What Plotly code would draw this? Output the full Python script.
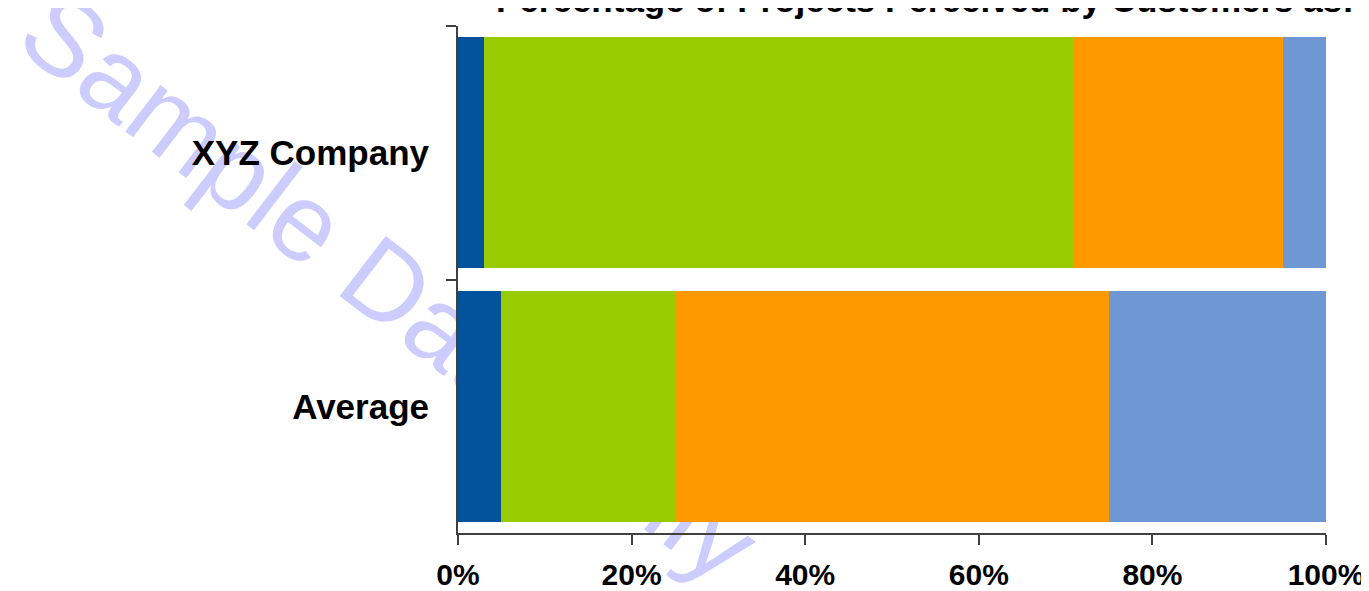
import math
import plotly.graph_objects as go

# ---- data ----
categories = ["XYZ Company", "Average"]
series_names = ["Segment 1", "Segment 2", "Segment 3", "Segment 4"]
segment_1 = [3, 5]
segment_2 = [68, 20]
segment_3 = [24, 50]
segment_4 = [5, 25]
tick_values = [0, 20, 40, 60, 80, 100]
tick_labels = ["0%", "20%", "40%", "60%", "80%", "100%"]
title_text = "Percentage of Projects Perceived by Customers as:"
watermark_text = "Sample Data Only"

colors = ["#00529B", "#99CC00", "#FF9900", "#6F97D4"]

# page body has an 8px default margin; compensate so the figure lands on screen as in the reference
OFF = 8
W, H = 1369 - OFF, 591 - OFF
ML, MR, MT, MB = 458 - OFF, 43, 26 - OFF, 58
PW, PH = W - ML - MR, H - MT - MB

FONT = "Liberation Sans, Arial, sans-serif"


def px_x(px):
    return (px - OFF - ML) / PW


def px_y(py):
    return (H - MB - (py - OFF)) / PH


fig = go.Figure()
for name, vals, col in zip(series_names, [segment_1, segment_2, segment_3, segment_4], colors):
    fig.add_trace(go.Bar(
        y=categories, x=vals, name=name, orientation="h",
        marker=dict(color=col, line=dict(width=0)),
    ))

# watermark (drawn beneath the bars)
cx, cy, ang = 396, 278, 37.5
dx, dy = 100 * math.cos(math.radians(ang)), 100 * math.sin(math.radians(ang))
fig.add_shape(
    type="line", xref="paper", yref="paper", layer="below",
    x0=px_x(cx - dx), y0=px_y(cy - dy), x1=px_x(cx + dx), y1=px_y(cy + dy),
    line=dict(color="rgba(0,0,0,0)", width=0),
    label=dict(text=watermark_text, textangle=ang, textposition="middle",
               yanchor="middle", xanchor="center",
               font=dict(family=FONT, size=110, color="#CCCCFF")),
)

fig.add_annotation(
    text=title_text, xref="paper", yref="paper",
    x=px_x(925), y=px_y(21), xanchor="center", yanchor="bottom",
    showarrow=False,
    font=dict(family=FONT, size=35, color="#000000", weight="bold"),
)

fig.update_layout(
    width=W, height=H,
    margin=dict(l=ML, r=MR, t=MT, b=MB, pad=0, autoexpand=False),
    barmode="stack", bargap=0.089,
    showlegend=False,
    paper_bgcolor="white", plot_bgcolor="rgba(0,0,0,0)",
    xaxis=dict(
        range=[0, 100], tickvals=tick_values, ticktext=tick_labels,
        showgrid=False, zeroline=False, automargin=False,
        showline=True, linecolor="#404040", linewidth=2,
        ticks="outside", ticklen=10, tickwidth=2, tickcolor="#404040",
        tickfont=dict(family=FONT, size=30, color="#000000", weight="bold"),
        ticklabelstandoff=4, ticklabeloverflow="allow",
    ),
    yaxis=dict(
        range=[1.5, -0.5], type="category",
        showgrid=False, zeroline=False, automargin=False,
        showline=True, linecolor="#404040", linewidth=2,
        ticks="outside", ticklen=10, tickwidth=2, tickcolor="#404040",
        tickson="boundaries",
        tickfont=dict(family=FONT, size=35, color="#000000", weight="bold"),
        ticklabelstandoff=20,
    ),
)

fig.write_html("out.html")
